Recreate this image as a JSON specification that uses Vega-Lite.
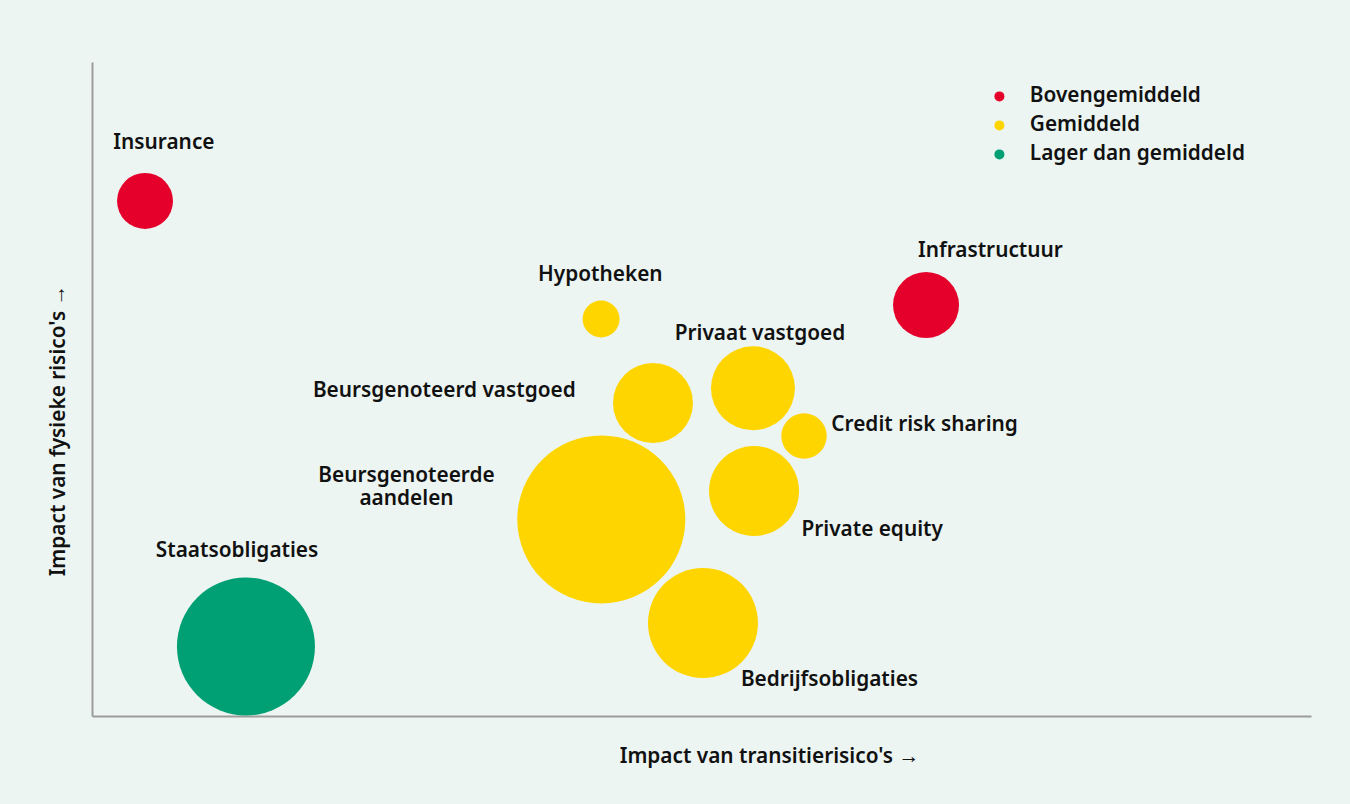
{
  "$schema": "https://vega.github.io/schema/vega-lite/v6.json",
  "width": 1219,
  "height": 654,
  "autosize": {"type": "none"},
  "padding": {"left": 92, "top": 62, "right": 39, "bottom": 88},
  "background": "#ECF5F1",
  "config": {
    "view": {"stroke": null},
    "font": "Noto Sans",
    "text": {"font": "Noto Sans"}
  },
  "data": {
    "values": [
      {"name": "Insurance", "label": "Insurance", "categorie": "Bovengemiddeld", "x": 4.35, "y": 78.75, "grootte": 24.6, "lx": 5.9, "ly": 87.9},
      {"name": "Hypotheken", "label": "Hypotheken", "categorie": "Gemiddeld", "x": 41.76, "y": 60.7, "grootte": 10.75, "lx": 41.7, "ly": 67.7},
      {"name": "Infrastructuur", "label": "Infrastructuur", "categorie": "Bovengemiddeld", "x": 68.42, "y": 62.84, "grootte": 34.2, "lx": 73.7, "ly": 71.3},
      {"name": "Privaat vastgoed", "label": "Privaat vastgoed", "categorie": "Gemiddeld", "x": 54.22, "y": 50.11, "grootte": 55.4, "lx": 54.8, "ly": 58.6},
      {"name": "Beursgenoteerd vastgoed", "label": "Beursgenoteerd vastgoed", "categorie": "Gemiddeld", "x": 46.02, "y": 47.86, "grootte": 50.3, "lx": 28.9, "ly": 50.0},
      {"name": "Credit risk sharing", "label": "Credit risk sharing", "categorie": "Gemiddeld", "x": 58.41, "y": 42.81, "grootte": 16.2, "lx": 68.3, "ly": 44.8},
      {"name": "Private equity", "label": "Private equity", "categorie": "Gemiddeld", "x": 54.31, "y": 34.4, "grootte": 63.6, "lx": 64.0, "ly": 28.7},
      {"name": "Beursgenoteerde aandelen", "label": "Beursgenoteerde\naandelen", "categorie": "Gemiddeld", "x": 41.78, "y": 30.05, "grootte": 221.7, "lx": 25.8, "ly": 37.0},
      {"name": "Bedrijfsobligaties", "label": "Bedrijfsobligaties", "categorie": "Gemiddeld", "x": 50.12, "y": 14.22, "grootte": 95.0, "lx": 60.5, "ly": 5.7},
      {"name": "Staatsobligaties", "label": "Staatsobligaties", "categorie": "Lager dan gemiddeld", "x": 12.63, "y": 10.63, "grootte": 149.6, "lx": 11.9, "ly": 25.4}
    ]
  },
  "layer": [
    {
      "mark": {"type": "circle", "opacity": 1, "strokeWidth": 0},
      "encoding": {
        "x": {
          "field": "x", "type": "quantitative",
          "scale": {"domain": [0, 100], "nice": false, "zero": false},
          "axis": {
            "title": "Impact van transitierisico's →",
            "domain": true, "domainColor": "#9B9B9B", "domainWidth": 2,
            "ticks": false, "labels": false, "grid": false,
            "titleFont": "Noto Sans", "titleFontSize": 20.8, "titleFontWeight": 600, "titleColor": "#111111",
            "titleX": 677, "titleY": 40, "titleBaseline": "middle", "titleAlign": "center"
          }
        },
        "y": {
          "field": "y", "type": "quantitative",
          "scale": {"domain": [0, 100], "nice": false, "zero": false},
          "axis": {
            "title": "Impact van fysieke risico's →",
            "domain": true, "domainColor": "#9B9B9B", "domainWidth": 2,
            "ticks": false, "labels": false, "grid": false,
            "titleFont": "Noto Sans", "titleFontSize": 20.8, "titleFontWeight": 600, "titleColor": "#111111",
            "titleX": -34, "titleY": 368, "titleAngle": -90, "titleBaseline": "middle", "titleAlign": "center"
          }
        },
        "size": {
          "field": "grootte", "type": "quantitative",
          "scale": {"type": "linear", "domain": [0, 200], "range": [0, 25465], "zero": true},
          "legend": null
        },
        "color": {
          "field": "categorie", "type": "nominal",
          "scale": {"domain": ["Bovengemiddeld", "Gemiddeld", "Lager dan gemiddeld"], "range": ["#E4002B", "#FFD500", "#00A074"]},
          "legend": {
            "title": null,
            "orient": "none",
            "legendX": 897,
            "legendY": 24,
            "symbolType": "circle",
            "symbolSize": 100,
            "symbolStrokeWidth": 0,
            "symbolOpacity": 1,
            "labelFont": "Noto Sans",
            "labelFontSize": 20.8,
            "labelFontWeight": 600,
            "labelColor": "#111111",
            "labelOffset": 20,
            "labelLimit": 400,
            "rowPadding": 7,
            "padding": 0
          }
        }
      }
    },
    {
      "mark": {"type": "text", "align": "center", "baseline": "middle", "dy": 1.5, "font": "Noto Sans", "fontSize": 20.8, "fontWeight": 600, "color": "#111111", "lineBreak": "\n", "lineHeight": 23},
      "encoding": {
        "x": {"field": "lx", "type": "quantitative"},
        "y": {"field": "ly", "type": "quantitative"},
        "text": {"field": "label"}
      }
    }
  ]
}
